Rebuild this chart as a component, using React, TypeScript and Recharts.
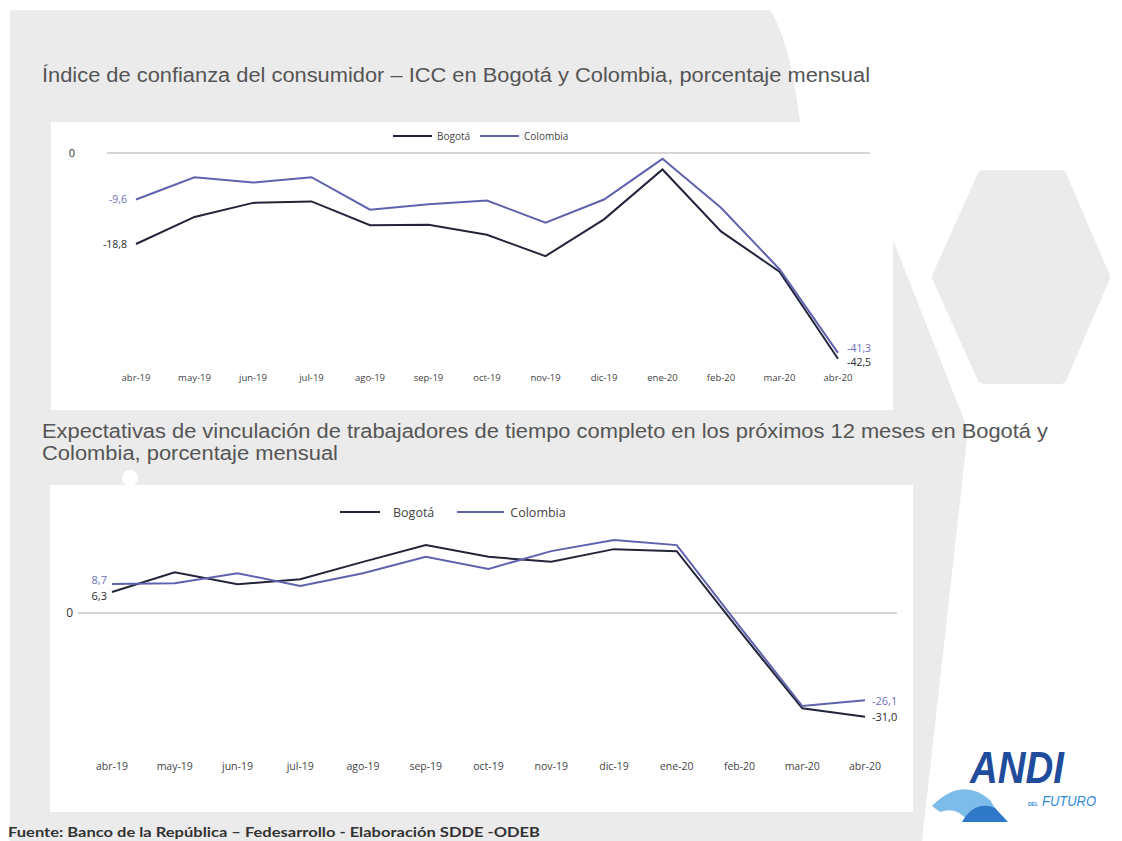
import React from 'react';
import { LineChart, Line, XAxis, YAxis, ReferenceLine, Legend, LabelList } from 'recharts';

const MESES = ['abr-19', 'may-19', 'jun-19', 'jul-19', 'ago-19', 'sep-19', 'oct-19', 'nov-19', 'dic-19', 'ene-20', 'feb-20', 'mar-20', 'abr-20'];

// ICC, porcentaje mensual
const ICC_BOGOTA = [-18.8, -13.2, -10.3, -10.0, -14.9, -14.8, -16.9, -21.3, -13.7, -3.4, -16.2, -24.5, -42.5];
const ICC_COLOMBIA = [-9.6, -5.0, -6.1, -5.0, -11.7, -10.6, -9.8, -14.4, -9.6, -1.2, -11.3, -24.0, -41.3];

// Expectativas de vinculación de trabajadores
const EMP_BOGOTA = [6.3, 12.2, 8.6, 10.1, 15.3, 20.3, 16.8, 15.3, 19.1, 18.5, -5.3, -28.5, -31.0];
const EMP_COLOMBIA = [8.7, 8.9, 11.9, 8.1, 11.9, 16.8, 13.2, 18.5, 21.8, 20.3, -4.0, -27.8, -26.1];

const SERIES = [
    { key: 'bogota', name: 'Bogotá', color: '#22243a', labelColor: '#2b2b2b' },
    { key: 'colombia', name: 'Colombia', color: '#5f62ad', labelColor: '#6d70b8' },
];

const iccData = MESES.map((mes, i) => ({ mes, bogota: ICC_BOGOTA[i], colombia: ICC_COLOMBIA[i] }));
const empData = MESES.map((mes, i) => ({ mes, bogota: EMP_BOGOTA[i], colombia: EMP_COLOMBIA[i] }));

const FONT = "'Open Sans', 'DejaVu Sans', sans-serif";
const GREY = '#ebebeb';

const fmt = (v: number) => v.toFixed(1).replace('.', ',');

// only the first and the last point carry a label
const endLabel = (opts: any) => (props: any) => {
    const { x, y, index, value } = props;
    const last = MESES.length - 1;
    if (index !== 0 && index !== last) return null;
    const first = index === 0;
    return (
        <text
            x={first ? x - opts.left : x + opts.right}
            y={y + (first ? opts.dyLeft : opts.dyRight)}
            textAnchor={first ? 'end' : 'start'}
            dominantBaseline="central"
            fill={opts.color}
            fontSize={opts.fontSize}
            fontFamily={FONT}
        >
            {fmt(Number(value))}
        </text>
    );
};

const legendContent = (cfg: any) => () => (
    <div style={{ display: 'flex', alignItems: 'center', fontFamily: FONT, fontSize: cfg.fontSize, color: '#444', whiteSpace: 'nowrap', height: 18 }}>
        {SERIES.map((s, i) => (
            <span key={s.key} style={{ display: 'flex', alignItems: 'center', marginRight: i === 0 ? cfg.between : 0 }}>
                <span style={{ display: 'inline-block', width: cfg.lineW[i], height: 2, background: s.color, marginRight: cfg.gap[i] }} />
                {s.name}
            </span>
        ))}
    </div>
);

const Background = () => (
    <svg width={1122} height={841} style={{ position: 'absolute', left: 0, top: 0 }}>
        <rect x={0} y={0} width={1122} height={841} fill="#ffffff" />
        <path d="M10 10 L770 10 Q790 40 800 122 L893 240 L968 430 L922 841 L10 841 Z" fill={GREY} />
        <polygon points="984,177 1060,177 1103,277 1060,377 984,377 939,277" fill={GREY} stroke={GREY} strokeWidth={14} strokeLinejoin="round" />
        <rect x={51} y={122} width={842} height={288} fill="#ffffff" />
        <rect x={50} y={485} width={863} height={327} fill="#ffffff" />
        <circle cx={130} cy={478} r={8} fill="#ffffff" />

        <text x={42} y={82} fontFamily="'Liberation Sans', Arial, sans-serif" fontSize={20} fill="#555" textLength={828} lengthAdjust="spacingAndGlyphs">
            Índice de confianza del consumidor – ICC en Bogotá y Colombia, porcentaje mensual
        </text>
        <text x={42} y={438} fontFamily="'Liberation Sans', Arial, sans-serif" fontSize={20} fill="#555" textLength={1006} lengthAdjust="spacingAndGlyphs">
            Expectativas de vinculación de trabajadores de tiempo completo en los  próximos 12 meses en Bogotá y
        </text>
        <text x={42} y={460} fontFamily="'Liberation Sans', Arial, sans-serif" fontSize={20} fill="#555" textLength={296} lengthAdjust="spacingAndGlyphs">
            Colombia, porcentaje mensual
        </text>
        <text x={8} y={837} fontFamily="Lato, 'Open Sans', sans-serif" fontWeight={700} fontSize={13} fill="#333" textLength={532} lengthAdjust="spacingAndGlyphs">
            Fuente: Banco de la República – Fedesarrollo -  Elaboración SDDE -ODEB
        </text>

        {/* logo */}
        <path d="M932 806 Q962 776 990 800 L1004 822 L968 822 Q958 806 940 812 Z" fill="#7dbbea" />
        <path d="M962 822 Q975 800 995 808 L1008 822 Z" fill="#2f78c8" />
        <text x={970} y={783} fontFamily="'Liberation Sans', Arial, sans-serif" fontWeight={700} fontStyle="italic" fontSize={44} fill="#1f4d9c" textLength={94} lengthAdjust="spacingAndGlyphs">ANDI</text>
        <text x={1028} y={806} fontFamily="'Liberation Sans', Arial, sans-serif" fontWeight={700} fontStyle="italic" fontSize={5} fill="#2f8ad8">DEL</text>
        <text x={1042} y={806} fontFamily="'Liberation Sans', Arial, sans-serif" fontStyle="italic" fontSize={15} fill="#2f8ad8" textLength={54} lengthAdjust="spacingAndGlyphs">FUTURO</text>
    </svg>
);

const App: React.FC = () => {
    return (
        <div style={{ position: 'absolute', left: 0, top: 0, width: 1122, height: 841, overflow: 'hidden' }}>
            <Background />

            <div style={{ position: 'absolute', left: 51, top: 122 }}>
                <LineChart width={842} height={288} data={iccData} margin={{ top: 16.5, right: 23, bottom: 14, left: 0 }}>
                    <XAxis dataKey="mes" axisLine={false} tickLine={false} interval={0} padding={{ left: 29, right: 32 }}
                        tick={{ fontSize: 9.5, fill: '#444', fontFamily: FONT }} />
                    <YAxis domain={[-44, 3]} ticks={[0]} width={56} axisLine={false} tickLine={false} tickMargin={26}
                        tick={{ fontSize: 11, fill: '#333', fontFamily: FONT }} />
                    <ReferenceLine y={0} stroke="#c8c8c8" strokeWidth={1.5} />
                    <Legend verticalAlign="middle" align="center" layout="horizontal" wrapperStyle={{ left: 342, top: 5, width: 'auto' }}
                        content={legendContent({ fontSize: 10, lineW: [39, 39], gap: [5, 5], between: 10 })} />
                    {SERIES.map((s) => (
                        <Line key={s.key} type="linear" dataKey={s.key} name={s.name} stroke={s.color} strokeWidth={2} dot={false} isAnimationActive={false}>
                            <LabelList dataKey={s.key} content={endLabel({
                                color: s.labelColor, fontSize: 10.5, left: 9, right: 9,
                                dyLeft: 0, dyRight: s.key === 'colombia' ? -5 : 3,
                            })} />
                        </Line>
                    ))}
                </LineChart>
            </div>

            <div style={{ position: 'absolute', left: 50, top: 485 }}>
                <LineChart width={863} height={327} data={empData} margin={{ top: 44.4, right: 16, bottom: 35.2, left: 0 }}>
                    <XAxis dataKey="mes" axisLine={false} tickLine={false} interval={0} padding={{ left: 34, right: 32 }} tickMargin={10}
                        tick={{ fontSize: 10.5, fill: '#444', fontFamily: FONT }} />
                    <YAxis domain={[-40, 25]} ticks={[0]} width={28} axisLine={false} tickLine={false} tickSize={0} tickMargin={5}
                        tick={{ fontSize: 12, fill: '#333', fontFamily: FONT }} />
                    <ReferenceLine y={0} stroke="#c8c8c8" strokeWidth={1.5} />
                    <Legend verticalAlign="middle" align="center" layout="horizontal" wrapperStyle={{ left: 290, top: 18, width: 'auto' }}
                        content={legendContent({ fontSize: 12.5, lineW: [40, 47], gap: [13, 6], between: 23 })} />
                    {SERIES.map((s) => (
                        <Line key={s.key} type="linear" dataKey={s.key} name={s.name} stroke={s.color} strokeWidth={2} dot={false} isAnimationActive={false}>
                            <LabelList dataKey={s.key} content={endLabel({
                                color: s.labelColor, fontSize: 11, left: 5, right: 7,
                                dyLeft: s.key === 'colombia' ? -4 : 4, dyRight: 0,
                            })} />
                        </Line>
                    ))}
                </LineChart>
            </div>
        </div>
    );
};

export default App;
